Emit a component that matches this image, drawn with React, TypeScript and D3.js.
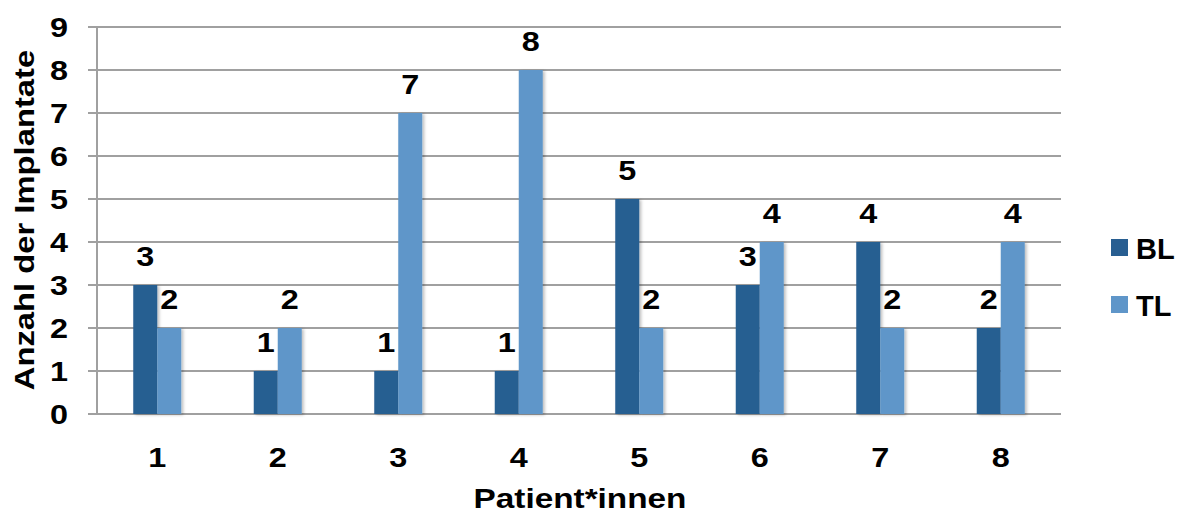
import React from "react";
import * as d3 from "d3";

// Implants per patient, split into BL and TL
const patients = ["1", "2", "3", "4", "5", "6", "7", "8"];
const seriesNames = ["BL", "TL"];
const blValues = [3, 1, 1, 1, 5, 3, 4, 2];
const tlValues = [2, 2, 7, 8, 2, 4, 2, 4];
const yTicks = [0, 1, 2, 3, 4, 5, 6, 7, 8, 9];

const colors: Record<string, string> = { BL: "#285E91", TL: "#5F96C9" };
const FONT = "'Liberation Sans', Arial, Helvetica, sans-serif";
// Widened glyphs, like the chart's wide bold face
const SX = 1.2;

function WideText(props: {
  x: number;
  y: number;
  size: number;
  anchor?: "start" | "middle" | "end";
  sx?: number;
  children: React.ReactNode;
}) {
  const { x, y, size, anchor = "middle", sx = SX, children } = props;
  return (
    <text
      transform={`translate(${x}, ${y}) scale(${sx}, 1)`}
      textAnchor={anchor}
      fontSize={size}
      fill="#000"
    >
      {children}
    </text>
  );
}

export default function App() {
  const width = 1177;
  const height = 514;
  const left = 97;
  const right = 1061;
  const top = 27;
  const bottom = 414;

  const x = d3.scaleBand<string>().domain(patients).range([left, right]).padding(0);
  const barW = 24;
  const inner = d3
    .scaleBand<string>()
    .domain(seriesNames)
    .range([x.bandwidth() / 2 - barW, x.bandwidth() / 2 + barW]);
  const y = d3.scaleLinear().domain([0, 9]).range([bottom, top]);

  const rows = patients.map((p, i) => ({ p, BL: blValues[i], TL: tlValues[i] }));

  return (
    <svg
      width={width}
      height={height}
      style={{ position: "absolute", left: 0, top: 0, background: "#fff" }}
      fontFamily={FONT}
      fontWeight="bold"
    >
      <defs>
        <filter id="barShadow" x="-20%" y="-5%" width="150%" height="110%">
          <feDropShadow dx="2" dy="1" stdDeviation="1.5" floodColor="#000" floodOpacity="0.25" />
        </filter>
      </defs>

      {/* horizontal gridlines with tick stubs */}
      {yTicks.map((t) => (
        <line
          key={"g" + t}
          x1={88}
          x2={right}
          y1={y(t)}
          y2={y(t)}
          stroke="#A0A0A0"
          strokeWidth={2}
        />
      ))}
      {/* vertical axis */}
      <line x1={left} x2={left} y1={top} y2={bottom} stroke="#A0A0A0" strokeWidth={2} />

      {/* y tick labels */}
      {yTicks.map((t) => (
        <WideText key={"yt" + t} x={68} y={y(t) + 10} size={27} anchor="end">
          {t}
        </WideText>
      ))}

      {/* bars */}
      {rows.map((r) =>
        seriesNames.map((s) => {
          const v = (r as any)[s] as number;
          const bx = (x(r.p) as number) + (inner(s) as number);
          return (
            <rect
              key={r.p + s}
              x={bx}
              y={y(v)}
              width={inner.bandwidth()}
              height={y(0) - y(v)}
              fill={colors[s]}
              filter="url(#barShadow)"
            />
          );
        })
      )}

      {/* value labels */}
      {rows.map((r) =>
        seriesNames.map((s) => {
          const v = (r as any)[s] as number;
          const cx = (x(r.p) as number) + (inner(s) as number) + inner.bandwidth() / 2;
          return (
            <WideText key={"v" + r.p + s} x={cx} y={y(v) - 19} size={27}>
              {v}
            </WideText>
          );
        })
      )}

      {/* x tick labels */}
      {patients.map((p) => (
        <WideText key={"xt" + p} x={(x(p) as number) + x.bandwidth() / 2} y={467} size={27}>
          {p}
        </WideText>
      ))}

      {/* axis titles */}
      <WideText x={580} y={508} size={28} sx={1.19}>
        Patient*innen
      </WideText>
      <text
        transform={`translate(34, 220) rotate(-90) scale(1.17, 1)`}
        textAnchor="middle"
        fontSize={28}
        fill="#000"
      >
        Anzahl der Implantate
      </text>

      {/* legend */}
      {seriesNames.map((s, i) => (
        <g key={"lg" + s} transform={`translate(1111, ${239 + i * 57})`}>
          <rect x={0} y={0} width={17} height={17} fill={colors[s]} />
          <text x={25} y={20} fontSize={29} fill="#000">
            {s}
          </text>
        </g>
      ))}
    </svg>
  );
}
